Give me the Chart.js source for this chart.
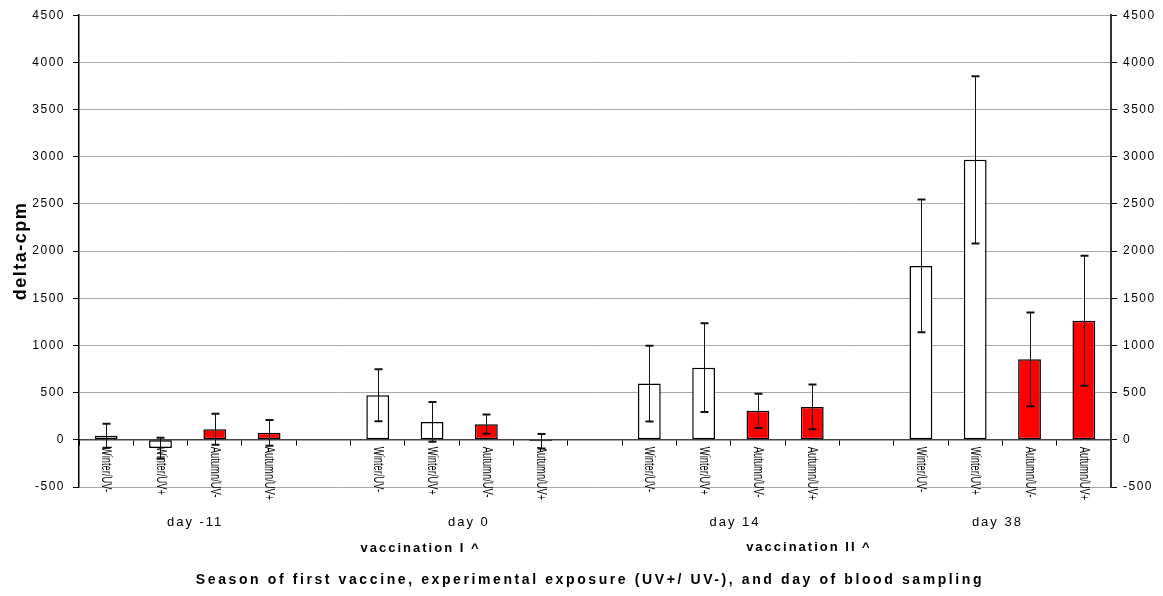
<!DOCTYPE html>
<html>
<head>
<meta charset="utf-8">
<script src="https://cdn.jsdelivr.net/npm/chart.js@4.4.1/dist/chart.umd.min.js"></script>
<style>
  html, body { margin: 0; padding: 0; background: #fff; }
  #wrap { width: 1163px; height: 596px; position: relative; }
</style>
</head>
<body>
<div id="wrap"><canvas id="chart"></canvas></div>
<script>
const CATEGORIES = [
  "Winter/UV-", "Winter/UV+", "Autumn/UV-", "Autumn/UV+", "",
  "Winter/UV-", "Winter/UV+", "Autumn/UV-", "Autumn/UV+", "",
  "Winter/UV-", "Winter/UV+", "Autumn/UV-", "Autumn/UV+", "",
  "Winter/UV-", "Winter/UV+", "Autumn/UV-", "Autumn/UV+",
];
const GROUPS = ["day -11", "day 0", "day 14", "day 38"];
const VACCINATIONS = ["vaccination I ^", "vaccination II ^"];
const MEANS = [
  42, -88, 113, 74, null,
  472, 190, 166, -15, null,
  596, 765, 307, 349, null,
  1843, 2967, 853, 1262,
];
const ERRORS = [
  127, 109, 164, 136, null,
  275, 211, 102, 78, null,
  402, 470, 182, 238, null,
  703, 886, 497, 689,
];
const Y_MIN = -500;
const Y_MAX = 4500;
const Y_STEP = 500;
const X_TITLE = "Season of first vaccine, experimental exposure (UV+/ UV-), and day of blood sampling";
const Y_TITLE = "delta-cpm";

// where the under-axis captions sit, in category units
const groupAt = [1.62, 6.66, 11.56, 16.39];
const vaccAt = [5.77, 12.92];

const barColors = CATEGORIES.map((c) => (c.startsWith("Autumn") ? "#ff0000" : "#ffffff"));

const spacingPlugin = {
  id: "spacing",
  beforeDraw(chart) {
    chart.ctx.letterSpacing = "1.5px";
  },
  afterDraw(chart) {
    chart.ctx.letterSpacing = "0px";
  },
};

const errorBarPlugin = {
  id: "errorBars",
  afterDatasetsDraw(chart) {
    const { ctx } = chart;
    const y = chart.scales.y;
    const meta = chart.getDatasetMeta(0);
    ctx.save();
    ctx.strokeStyle = "#111";
    meta.data.forEach((bar, i) => {
      if (MEANS[i] == null) return;
      const top = y.getPixelForValue(MEANS[i] + ERRORS[i]);
      const bot = y.getPixelForValue(MEANS[i] - ERRORS[i]);
      const x = Math.round(bar.x) + 0.5;
      ctx.lineWidth = 1;
      ctx.beginPath();
      ctx.moveTo(x, top);
      ctx.lineTo(x, bot);
      ctx.stroke();
      ctx.lineWidth = 2;
      ctx.beginPath();
      ctx.moveTo(x - 4, top);
      ctx.lineTo(x + 4, top);
      ctx.moveTo(x - 4, bot);
      ctx.lineTo(x + 4, bot);
      ctx.stroke();
    });
    ctx.restore();
  },
};

const labelsPlugin = {
  id: "bottomLabels",
  afterDraw(chart) {
    const { ctx } = chart;
    const x = chart.scales.x;
    const zero = chart.scales.y.getPixelForValue(0);
    ctx.save();
    ctx.fillStyle = "#000";

    // rotated category labels, squeezed like a narrow face
    ctx.letterSpacing = "0px";
    ctx.font = "14px 'Liberation Sans', Arial, sans-serif";
    ctx.textAlign = "left";
    ctx.textBaseline = "middle";
    CATEGORIES.forEach((label, i) => {
      if (!label) return;
      ctx.save();
      ctx.translate(x.getPixelForValue(i), zero + 7);
      ctx.rotate(Math.PI / 2);
      ctx.scale(0.67, 1);
      ctx.fillText(label, 0, 0);
      ctx.restore();
    });

    ctx.textAlign = "center";
    ctx.textBaseline = "middle";

    ctx.letterSpacing = "2px";
    ctx.font = "13px 'Liberation Sans', Arial, sans-serif";
    GROUPS.forEach((g, gi) => {
      ctx.fillText(g, x.getPixelForValue(groupAt[gi]) + 1, 522);
    });

    ctx.font = "bold 13px 'Liberation Sans', Arial, sans-serif";
    ctx.fillText(VACCINATIONS[0], x.getPixelForValue(vaccAt[0]) + 1, 548);
    ctx.fillText(VACCINATIONS[1], x.getPixelForValue(vaccAt[1]) + 1, 547);

    ctx.font = "bold 14px 'Liberation Sans', Arial, sans-serif";
    ctx.letterSpacing = "2.6px";
    ctx.fillText(X_TITLE, 590, 580);
    ctx.restore();
  },
};

const tickFont = { family: "'Liberation Sans', Arial, sans-serif", size: 12 };

new Chart(document.getElementById("chart"), {
  type: "bar",
  data: {
    labels: CATEGORIES,
    datasets: [
      {
        data: MEANS,
        backgroundColor: barColors,
        borderColor: "#000",
        borderWidth: 1.5,
        borderSkipped: false,
        barPercentage: 0.42,
        categoryPercentage: 1,
      },
    ],
  },
  options: {
    responsive: true,
    maintainAspectRatio: false,
    animation: false,
    layout: { padding: { top: 13, bottom: 109, left: 0, right: 0 } },
    plugins: {
      legend: { display: false },
      tooltip: { enabled: false },
    },
    scales: {
      x: {
        position: { y: 0 },
        offset: true,
        afterFit: (s) => { s.height = 0; },
        grid: {
          offset: true,
          drawOnChartArea: false,
          tickLength: 5,
          color: "#000",
        },
        border: { color: "#444", width: 1.5 },
        ticks: { display: false },
      },
      y: {
        position: "left",
        min: Y_MIN,
        max: Y_MAX,
        afterFit: (s) => { s.width = 79; },
        ticks: {
          stepSize: Y_STEP,
          color: "#000",
          font: tickFont,
          padding: 8,
          callback: (v) => String(v),
        },
        grid: { color: "#aaa", tickColor: "#000", tickLength: 6 },
        border: { color: "#000", width: 1.5 },
        title: {
          display: true,
          text: Y_TITLE,
          color: "#000",
          font: { family: "'Liberation Sans', Arial, sans-serif", size: 18, weight: "bold" },
          padding: { top: 10, bottom: 0 },
        },
      },
      y2: {
        position: "right",
        min: Y_MIN,
        max: Y_MAX,
        afterFit: (s) => { s.width = 52; },
        ticks: {
          stepSize: Y_STEP,
          color: "#000",
          font: tickFont,
          padding: 6,
          callback: (v) => String(v),
        },
        grid: { drawOnChartArea: false, tickColor: "#000", tickLength: 6 },
        border: { color: "#333", width: 2 },
      },
    },
  },
  plugins: [spacingPlugin, errorBarPlugin, labelsPlugin],
});
</script>
</body>
</html>
